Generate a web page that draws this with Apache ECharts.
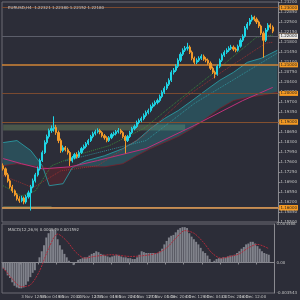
<!DOCTYPE html>
<html><head><meta charset="utf-8">
<script src="https://cdn.jsdelivr.net/npm/echarts@6/dist/echarts.min.js"></script>
<style>html,body{margin:0;padding:0;background:#2c2d38;}#chart{width:300px;height:300px;}</style>
</head><body><div id="chart"></div>
<script>
const symbolTitle = "EURUSD,H4  1.22321 1.22380 1.22152 1.22180";
const macdTitle = "MACD(12,26,9) 0.000949 0.001592";
const timeLabels = ["30 Oct 2020","3 Nov 12:00","5 Nov 04:00","9 Nov 20:00","12 Nov 12:00","17 Nov 04:00","19 Nov 20:00","24 Nov 12:00","27 Nov 04:00","1 Dec 20:00","4 Dec 12:00","9 Dec 04:00","11 Dec 20:00","16 Dec 12:00","21 Dec 04:00"];
const opens = [1.1747,1.1736,1.1715,1.1694,1.1673,1.1659,1.1645,1.1631,1.1624,1.1634,1.1620,1.1638,1.1652,1.1673,1.1694,1.1715,1.1736,1.1765,1.1793,1.1828,1.1849,1.1870,1.1877,1.1881,1.1863,1.1835,1.1800,1.1810,1.1803,1.1793,1.1764,1.1775,1.1786,1.1779,1.1793,1.1807,1.1814,1.1824,1.1835,1.1849,1.1859,1.1866,1.1870,1.1863,1.1852,1.1845,1.1835,1.1845,1.1856,1.1859,1.1866,1.1870,1.1863,1.1849,1.1835,1.1849,1.1863,1.1877,1.1884,1.1898,1.1905,1.1912,1.1923,1.1933,1.1940,1.1954,1.1961,1.1968,1.1975,1.1989,1.2004,1.2018,1.2032,1.2046,1.2074,1.2081,1.2095,1.2116,1.2137,1.2151,1.2158,1.2162,1.2144,1.2123,1.2109,1.2116,1.2123,1.2130,1.2120,1.2116,1.2106,1.2088,1.2074,1.2067,1.2095,1.2116,1.2134,1.2144,1.2151,1.2158,1.2162,1.2155,1.2151,1.2165,1.2186,1.2200,1.2229,1.2243,1.2257,1.2267,1.2260,1.2250,1.2236,1.2211,1.2186,1.2222,1.2239,1.2232];
const closes = [1.1736,1.1715,1.1694,1.1673,1.1659,1.1645,1.1631,1.1624,1.1634,1.1620,1.1638,1.1652,1.1673,1.1694,1.1715,1.1736,1.1765,1.1793,1.1828,1.1849,1.1870,1.1877,1.1881,1.1863,1.1835,1.1800,1.1810,1.1803,1.1793,1.1764,1.1775,1.1786,1.1779,1.1793,1.1807,1.1814,1.1824,1.1835,1.1849,1.1859,1.1866,1.1870,1.1863,1.1852,1.1845,1.1835,1.1845,1.1856,1.1859,1.1866,1.1870,1.1863,1.1849,1.1835,1.1849,1.1863,1.1877,1.1884,1.1898,1.1905,1.1912,1.1923,1.1933,1.1940,1.1954,1.1961,1.1968,1.1975,1.1989,1.2004,1.2018,1.2032,1.2046,1.2074,1.2081,1.2095,1.2116,1.2137,1.2151,1.2158,1.2162,1.2144,1.2123,1.2109,1.2116,1.2123,1.2130,1.2120,1.2116,1.2106,1.2088,1.2074,1.2067,1.2095,1.2116,1.2134,1.2144,1.2151,1.2158,1.2162,1.2155,1.2151,1.2165,1.2186,1.2200,1.2229,1.2243,1.2257,1.2267,1.2260,1.2250,1.2236,1.2211,1.2186,1.2222,1.2239,1.2232,1.2218];
const highs = [1.1755,1.1741,1.1722,1.1700,1.1680,1.1664,1.1651,1.1640,1.1642,1.1639,1.1645,1.1660,1.1680,1.1702,1.1722,1.1744,1.1772,1.1800,1.1836,1.1856,1.1877,1.1888,1.1920,1.1890,1.1870,1.1842,1.1818,1.1816,1.1810,1.1798,1.1781,1.1792,1.1794,1.1800,1.1813,1.1821,1.1830,1.1841,1.1855,1.1866,1.1873,1.1878,1.1876,1.1868,1.1858,1.1850,1.1851,1.1862,1.1866,1.1872,1.1879,1.1876,1.1868,1.1854,1.1855,1.1869,1.1883,1.1891,1.1905,1.1912,1.1919,1.1930,1.1940,1.1947,1.1961,1.1968,1.1975,1.1982,1.1996,1.2011,1.2025,1.2039,1.2053,1.2081,1.2089,1.2102,1.2123,1.2144,1.2158,1.2166,1.2177,1.2168,1.2150,1.2129,1.2123,1.2130,1.2137,1.2136,1.2127,1.2122,1.2112,1.2094,1.2080,1.2101,1.2122,1.2140,1.2151,1.2158,1.2165,1.2170,1.2168,1.2161,1.2171,1.2193,1.2207,1.2236,1.2250,1.2264,1.2275,1.2272,1.2266,1.2255,1.2241,1.2217,1.2229,1.2246,1.2245,1.2238];
const lows = [1.1730,1.1709,1.1688,1.1667,1.1652,1.1640,1.1625,1.1617,1.1619,1.1612,1.1614,1.1632,1.1590,1.1668,1.1688,1.1709,1.1730,1.1760,1.1788,1.1822,1.1842,1.1862,1.1866,1.1855,1.1826,1.1792,1.1794,1.1797,1.1786,1.1746,1.1758,1.1769,1.1772,1.1774,1.1788,1.1801,1.1808,1.1819,1.1830,1.1843,1.1853,1.1860,1.1857,1.1846,1.1838,1.1829,1.1830,1.1840,1.1850,1.1853,1.1860,1.1857,1.1843,1.1790,1.1830,1.1844,1.1858,1.1871,1.1879,1.1892,1.1899,1.1906,1.1917,1.1927,1.1934,1.1948,1.1955,1.1962,1.1969,1.1983,1.1998,1.2012,1.2026,1.2040,1.2066,1.2075,1.2089,1.2110,1.2131,1.2145,1.2150,1.2138,1.2116,1.2102,1.2103,1.2110,1.2117,1.2114,1.2109,1.2100,1.2082,1.2068,1.2053,1.2062,1.2089,1.2110,1.2128,1.2138,1.2145,1.2152,1.2148,1.2144,1.2146,1.2160,1.2180,1.2195,1.2223,1.2237,1.2251,1.2253,1.2243,1.2229,1.2204,1.2125,1.2180,1.2216,1.2225,1.2211];
const macdHist = [-0.0007,-0.0009,-0.0015,-0.0018,-0.0023,-0.0027,-0.0029,-0.0030,-0.0030,-0.0029,-0.0026,-0.0022,-0.0017,-0.0012,-0.0009,0.0000,0.0006,0.0013,0.0020,0.0029,0.0034,0.0038,0.0038,0.0037,0.0027,0.0020,0.0015,0.0010,0.0006,0.0002,0.0000,-0.0003,0.0000,0.0003,0.0004,0.0005,0.0006,0.0006,0.0008,0.0010,0.0011,0.0013,0.0012,0.0010,0.0009,0.0008,0.0007,0.0006,0.0007,0.0008,0.0009,0.0008,0.0007,0.0006,0.0006,0.0005,0.0005,0.0004,0.0004,0.0006,0.0009,0.0013,0.0012,0.0011,0.0011,0.0011,0.0011,0.0011,0.0011,0.0013,0.0016,0.0021,0.0025,0.0029,0.0031,0.0032,0.0035,0.0038,0.0040,0.0041,0.0041,0.0040,0.0034,0.0030,0.0027,0.0024,0.0021,0.0017,0.0013,0.0011,0.0008,0.0004,0.0000,0.0002,0.0004,0.0005,0.0005,0.0006,0.0006,0.0007,0.0008,0.0008,0.0009,0.0011,0.0013,0.0016,0.0018,0.0021,0.0022,0.0024,0.0024,0.0022,0.0019,0.0016,0.0013,0.0011,0.0010,0.0009];
const macdSignal = [[0,-0.0006],[4,-0.0019],[8,-0.0028],[12,-0.0026],[16,-0.0010],[20,0.0016],[24,0.0033],[28,0.0025],[32,0.0012],[36,0.0005],[40,0.0007],[48,0.0009],[56,0.0007],[62,0.0008],[68,0.0011],[72,0.0017],[76,0.0028],[80,0.0037],[84,0.0034],[88,0.0024],[92,0.0011],[96,0.0005],[100,0.0007],[104,0.0010],[108,0.0017],[112,0.0021],[117,0.0016]];
const maSlow = [[0,1.1772],[8,1.1754],[17,1.1736],[29,1.1743],[41,1.1765],[62,1.1807],[83,1.1888],[104,1.1975],[117,1.2021]];
const maFast = [[0,1.1677],[8,1.1641],[14,1.1659],[21,1.1747],[34,1.1789],[46,1.1817],[61,1.1877],[76,1.1975],[91,1.2070],[110,1.2197],[117,1.2204]];
const maMid = [[0,1.1712],[13,1.1670],[25,1.1729],[41,1.1747],[61,1.1852],[79,1.1986],[96,1.2081],[114,1.2176],[117,1.2179]];
const maTeal = [[27,1.1764],[62,1.1835],[83,1.1965],[119,1.2141]];
const spanA = [[0,1.1828],[6,1.1835],[12,1.1800],[17,1.1747],[20,1.1677],[26,1.1684],[30,1.1740],[36,1.1764],[44,1.1782],[52,1.1807],[58,1.1835],[64,1.1877],[70,1.1912],[76,1.1940],[82,1.1975],[88,1.2011],[94,1.2046],[100,1.2074],[106,1.2109],[112,1.2123],[119,1.2151]];
const spanB = [[0,1.1747],[6,1.1754],[12,1.1747],[17,1.1743],[20,1.1736],[26,1.1736],[30,1.1743],[36,1.1743],[44,1.1743],[52,1.1754],[58,1.1782],[64,1.1807],[70,1.1828],[76,1.1849],[82,1.1877],[88,1.1912],[94,1.1947],[100,1.1975],[106,1.1986],[112,1.1993],[119,1.2004]];
const levelPrices = [1.2274,1.2176,1.2053,1.1986,1.1891,1.1870,1.1606,1.1596,1.1553];
const currentPrice = 1.2218;
const zones = [[1.1891,1.1870,0,79],[1.1606,1.1596,0,21]];

const N = 120;
const cats = Array.from({length:N},(_,i)=>String(i));
const candleData = opens.map((o,i)=>[o,closes[i],lows[i],highs[i]]);
const cloudLow = spanA.map((a,i)=>[a[0],Math.min(a[1],spanB[i][1])]);
const cloudBull = spanA.map((a,i)=>[a[0],Math.max(a[1]-spanB[i][1],0)]);
const cloudBear = spanA.map((a,i)=>[a[0],Math.max(spanB[i][1]-a[1],0)]);

const levelStyle = [
 {c:'#7a4a30',w:1},{c:'#84502f',w:1},{c:'#d08436',w:1.6},{c:'#7a4a30',w:1},
 {c:'#84502f',w:1},{c:'#84502f',w:1},{c:'#84502f',w:1},{c:'#84502f',w:1},{c:'#e2a25c',w:1.6}
];
const lblBase = {show:true,position:'end',distance:1,fontSize:4,fontFamily:'DejaVu Sans',padding:[1,1,0,1],formatter:p=>p.value.toFixed(5)};
const markLines = levelPrices.map((v,i)=>({yAxis:v,lineStyle:{color:levelStyle[i].c,width:levelStyle[i].w,type:'solid'},label:Object.assign({},lblBase,{backgroundColor:'#f59a23',color:'#222'})}));
markLines.push({yAxis:currentPrice,lineStyle:{color:'#5c5e6a',width:1,type:'solid'},label:Object.assign({},lblBase,{backgroundColor:'#e8e8e8',color:'#222'})});

const chart = echarts.init(document.getElementById('chart'),null,{renderer:'canvas'});
chart.setOption({
 animation:false,
 backgroundColor:'#2c2d38',
 title:[
  {text:symbolTitle,left:3,top:1,textStyle:{color:'#c8c8c8',fontSize:4,fontWeight:'normal',fontFamily:'DejaVu Sans'}},
  {text:macdTitle,left:3,top:223,textStyle:{color:'#c8c8c8',fontSize:4,fontWeight:'normal',fontFamily:'DejaVu Sans'}}
 ],
 grid:[
  {left:2,right:13,top:2,height:220,show:true,borderColor:'#6c6d75',borderWidth:1,backgroundColor:'transparent'},
  {left:2,right:13,top:224,height:69,show:true,borderColor:'#6c6d75',borderWidth:1,backgroundColor:'transparent'}
 ],
 xAxis:[
  {type:'category',gridIndex:0,data:cats,boundaryGap:true,axisLine:{show:false},axisTick:{show:false},axisLabel:{show:false},splitLine:{show:false}},
  {type:'category',gridIndex:1,data:cats,boundaryGap:true,axisLine:{show:true,lineStyle:{color:'#8a8a90'}},
   axisTick:{show:true,length:2,interval:(i)=>i%8===0,lineStyle:{color:'#8a8a90'}},
   axisLabel:{show:true,interval:(i)=>i%8===0,formatter:(v,i)=>timeLabels[i/8]||'',align:'left',margin:2,fontSize:4,color:'#c0c0c0',fontFamily:'DejaVu Sans'},splitLine:{show:false}}
 ],
 yAxis:[
  {type:'value',gridIndex:0,position:'right',min:1.155,max:1.232,interval:0.0035,
   axisLine:{show:true,lineStyle:{color:'#8a8a90'}},axisTick:{show:true,length:2,inside:false,lineStyle:{color:'#8a8a90'}},
   axisLabel:{fontSize:4,color:'#c0c0c0',margin:2,fontFamily:'DejaVu Sans',formatter:v=>v.toFixed(5)},splitLine:{show:false}},
  {type:'value',gridIndex:1,position:'right',min:-0.003543,max:0.004468,
   axisLine:{show:true,lineStyle:{color:'#8a8a90'}},axisTick:{show:false},
   axisLabel:{fontSize:4,color:'#c0c0c0',margin:2,fontFamily:'DejaVu Sans',customValues:[-0.003543,0,0.004468],formatter:v=>v===0?'0.00':v.toFixed(6)},splitLine:{show:false}}
 ],
 series:[
  {type:'line',xAxisIndex:0,yAxisIndex:0,data:cloudLow,stack:'cloud',symbol:'none',lineStyle:{width:0},areaStyle:{opacity:0},z:1},
  {type:'line',xAxisIndex:0,yAxisIndex:0,data:cloudBull,stack:'cloud',symbol:'none',lineStyle:{width:0},areaStyle:{color:'rgba(40,150,160,0.45)'},z:1},
  {type:'line',xAxisIndex:0,yAxisIndex:0,data:cloudBear,stack:'cloud',symbol:'none',lineStyle:{width:0},areaStyle:{color:'rgba(110,30,40,0.6)'},z:1},
  {type:'line',xAxisIndex:0,yAxisIndex:0,data:spanA,symbol:'none',lineStyle:{color:'#2aa5ad',width:0.8},z:2},
  {type:'line',xAxisIndex:0,yAxisIndex:0,data:spanB,symbol:'none',lineStyle:{color:'#7a1e2a',width:0.8},z:2},
  {type:'line',xAxisIndex:0,yAxisIndex:0,data:maSlow,symbol:'none',lineStyle:{color:'#c0307a',width:1},z:3},
  {type:'line',xAxisIndex:0,yAxisIndex:0,data:maMid,symbol:'none',lineStyle:{color:'#b03030',width:0.8,type:[1,1]},z:3},
  {type:'line',xAxisIndex:0,yAxisIndex:0,data:maFast,symbol:'none',lineStyle:{color:'#3a9a3a',width:0.8,type:[1,1]},z:3},
  {type:'line',xAxisIndex:0,yAxisIndex:0,data:maTeal,symbol:'none',lineStyle:{color:'#30a0a8',width:0.8,type:[1,1]},z:3},
  {type:'candlestick',xAxisIndex:0,yAxisIndex:0,data:candleData,barWidth:'72%',z:5,
   itemStyle:{color:'#1ed6e6',color0:'#f29a2a',borderColor:'#1ed6e6',borderColor0:'#f29a2a',borderWidth:1},
   markLine:{symbol:'none',silent:true,animation:false,data:markLines},
   markArea:{silent:true,data:zones.map(z=>[{xAxis:z[2],yAxis:z[0],itemStyle:{color:'rgba(110,140,100,0.45)'}},{xAxis:z[3],yAxis:z[1]}])}},
  {type:'bar',xAxisIndex:1,yAxisIndex:1,data:macdHist,barCategoryGap:'15%',itemStyle:{color:'#80828b'}},
  {type:'line',xAxisIndex:1,yAxisIndex:1,data:macdSignal,symbol:'none',smooth:0.3,lineStyle:{color:'#b02a3a',width:1,type:[2,1]}}
 ]
});
</script></body></html>
